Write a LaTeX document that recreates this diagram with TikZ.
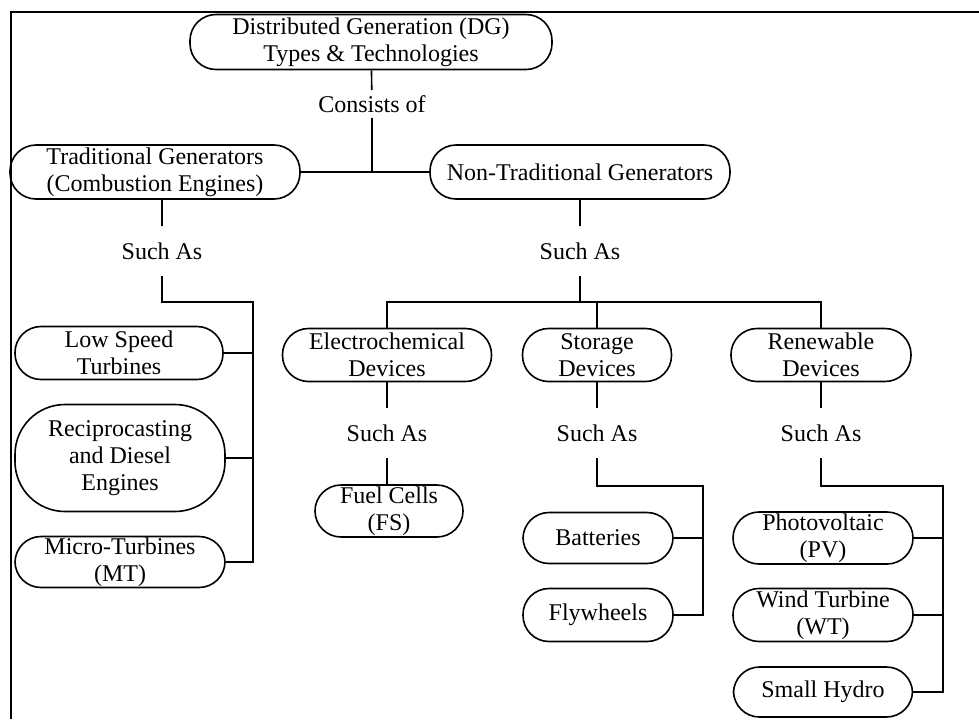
\documentclass[tikz,border=0pt]{standalone}
\usepackage{fontspec}
\setmainfont{Liberation Serif}
\usetikzlibrary{positioning,calc}
\tikzset{
  gen/.style={draw,line width=0.8pt,rounded corners=13pt,align=center,inner sep=0pt,
    font=\fontsize{12}{13.5}\selectfont},
  such/.style={inner sep=0pt,minimum height=25pt,font=\fontsize{12}{13.5}\selectfont},
  link/.style={line width=0.8pt},
}

\begin{document}
\begin{tikzpicture}[x=0.5pt,y=-0.5pt]
\useasboundingbox (0,0) rectangle (979,719);
% frame
\draw[line width=0.9pt] (11,719) -- (11,12) -- (979,12);
% top
\node[gen,minimum width=181pt,minimum height=27.5pt] (dg) at (371,42) {Distributed Generation (DG)\\Types \& Technologies};
\node[such,minimum height=13.5pt] (cons) at (372,104) {Consists of};
\node[gen,minimum width=145pt,minimum height=27pt] (trad) at (155,172) {Traditional Generators\\(Combustion Engines)};
\node[gen,minimum width=150pt,minimum height=27pt] (nontrad) at (580,172) {Non-Traditional Generators};
\draw[link] (dg) -- (cons);
\draw[link] (cons.south) -- (cons.south |- trad.east);
\draw[link] (trad) -- (nontrad);
% traditional
\node[such] (such1) at (162,251) {Such As};
\draw[link] (such1.north) -- (such1.north |- trad.south);
\node[gen,minimum width=104pt,minimum height=26.5pt] (lst) at (119,353) {Low Speed\\Turbines};
\node[gen,minimum width=105pt,minimum height=53.5pt,rounded corners=25pt] (rde) at (120,458) {Reciprocasting\\and Diesel\\Engines};
\node[gen,minimum width=105pt,minimum height=25.5pt] (mt) at (120,562) {Micro-Turbines\\(MT)};
\coordinate (tbus) at (253,302);
\draw[link] (such1.south) |- (tbus) |- (mt.east);
\draw[link] (lst.east) -- (lst.east -| tbus);
\draw[link] (rde.east) -- (rde.east -| tbus);
% non-traditional
\node[such] (such2) at (580,251) {Such As};
\draw[link] (nontrad) -- (such2);
\coordinate (nbus) at (580,302);
\node[gen,minimum width=104.5pt,minimum height=26.5pt] (ecd) at (387,355) {Electrochemical\\Devices};
\node[gen,minimum width=74.5pt,minimum height=26.5pt] (std) at (597,355) {Storage\\Devices};
\node[gen,minimum width=90pt,minimum height=26.5pt] (rnd) at (821,355) {Renewable\\Devices};
\draw[link] (such2) -- (nbus);
\draw[link] (ecd.north) -- (ecd.north |- nbus) -- (rnd.north |- nbus) -- (rnd.north);
\draw[link] (std.north) -- (std.north |- nbus);
% electrochemical
\node[such] (such3) at (387,433) {Such As};
\node[gen,minimum width=74pt,minimum height=26pt] (fc) at (389,511) {Fuel Cells\\(FS)};
\draw[link] (ecd) -- (such3);
\draw[link] (such3.south) -- (such3.south |- fc.north);
% storage
\node[such] (such4) at (597,433) {Such As};
\node[gen,minimum width=75pt,minimum height=25.5pt] (bat) at (598,538) {Batteries};
\node[gen,minimum width=75pt,minimum height=26.5pt] (fly) at (598,615) {Flywheels};
\coordinate (sbus) at (703,486);
\draw[link] (std) -- (such4);
\draw[link] (such4.south) |- (sbus) |- (fly.east);
\draw[link] (bat.east) -- (bat.east -| sbus);
% renewable
\node[such] (such5) at (821,433) {Such As};
\node[gen,minimum width=90pt,minimum height=26pt] (pv) at (823,538) {Photovoltaic\\(PV)};
\node[gen,minimum width=90pt,minimum height=26.5pt] (wt) at (823,615) {Wind Turbine\\(WT)};
\node[gen,minimum width=89.5pt,minimum height=25pt] (sh) at (823,692) {Small Hydro};
\coordinate (rbus) at (943,486);
\draw[link] (rnd) -- (such5);
\draw[link] (such5.south) |- (rbus) |- (sh.east);
\draw[link] (pv.east) -- (pv.east -| rbus);
\draw[link] (wt.east) -- (wt.east -| rbus);
\end{tikzpicture}
\end{document}
